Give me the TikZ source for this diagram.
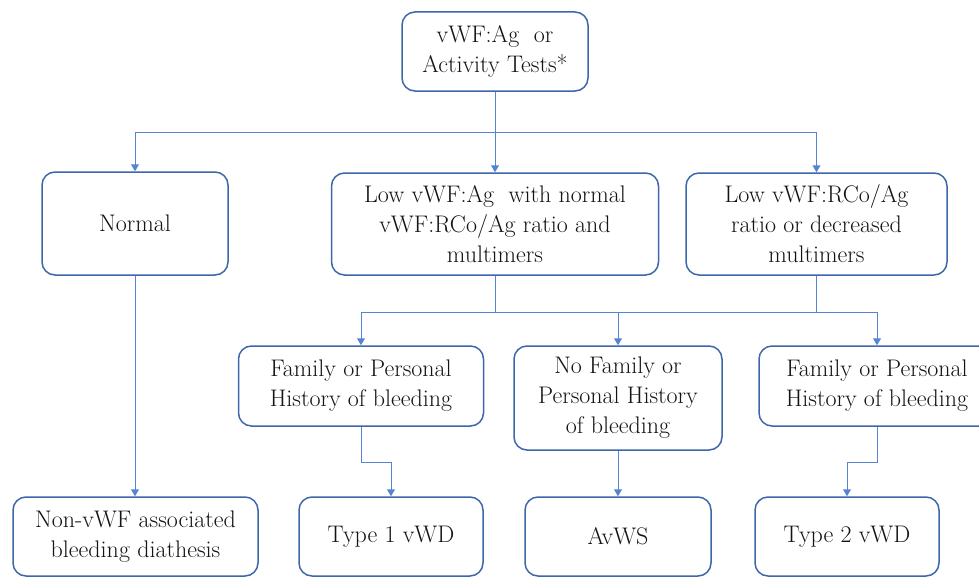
\documentclass[tikz,border=0pt]{standalone}
\usetikzlibrary{arrows.meta}
\definecolor{boxblue}{RGB}{62,102,172}
\definecolor{linkblue}{RGB}{86,132,212}
\definecolor{txt}{RGB}{20,20,20}
\tikzset{
  box/.style={draw=boxblue, line width=1.5pt, rounded corners=13pt, fill=white,
    align=center, inner sep=0pt, text=txt,
    font=\fontsize{24}{30}\selectfont},
  link/.style={draw=linkblue, line width=1pt},
  arr/.style={link, -{Triangle[width=8pt,length=7pt]}}
}
\begin{document}
\begin{tikzpicture}[x=1pt,y=-1pt]
\useasboundingbox (0,0) rectangle (979,578);
\clip (0,0) rectangle (979,578);
\node[box, minimum width=186pt, minimum height=79pt] (top) at (495,51.5) {vWF:Ag\hspace{0.3em} or\\Activity Tests*};
\node[box, minimum width=186pt, minimum height=103pt] (normal) at (135,223.5) {Normal};
\node[box, minimum width=327pt, minimum height=102pt] (mid) at (495,224) {Low vWF:Ag\hspace{0.3em} with normal\\vWF:RCo/Ag ratio and\\multimers};
\node[box, minimum width=261pt, minimum height=102pt] (right) at (816.5,224) {Low vWF:RCo/Ag\\ratio or decreased\\multimers};
\node[box, minimum width=245pt, minimum height=80pt] (fam1) at (361,386) {Family or Personal\\History of bleeding};
\node[box, minimum width=208pt, minimum height=104pt] (nofam) at (618,398) {No Family or\\Personal History\\of bleeding};
\node[box, minimum width=236pt, minimum height=80pt] (fam3) at (877,386) {Family or Personal\\History of bleeding};
\node[box, minimum width=245pt, minimum height=79pt] (nonvwf) at (135.5,536.5) {Non-vWF associated\\bleeding diathesis};
\node[box, minimum width=184pt, minimum height=79pt] (type1) at (391,536.5) {Type 1 vWD};
\node[box, minimum width=186pt, minimum height=79pt] (avws) at (618,536.5) {AvWS};
\node[box, minimum width=184pt, minimum height=79pt] (type2) at (847,536.5) {Type 2 vWD};
% connectors
\coordinate (j1) at (495,132);
\draw[arr] (top.south) -- (mid.north);
\draw[arr] (j1) -| (normal.north);
\draw[arr] (j1) -| (right.north);
\draw[arr] (normal.south) -- (nonvwf.north -| normal.south);
\coordinate (j2) at (495,312);
\draw[link] (mid.south) -- (j2);
\draw[link] (right.south) -- (right.south |- j2);
\draw[arr] (fam3.north |- j2) -| (fam1.north);
\draw[arr] (nofam.north |- j2) -- (nofam.north);
\draw[arr] (fam3.north |- j2) -- (fam3.north);
\draw[arr] (fam1.south) -- ++(0,36) -| (type1.north);
\draw[arr] (nofam.south) -- (avws.north);
\draw[arr] (fam3.south) -- ++(0,36) -| (type2.north);
\end{tikzpicture}
\end{document}
